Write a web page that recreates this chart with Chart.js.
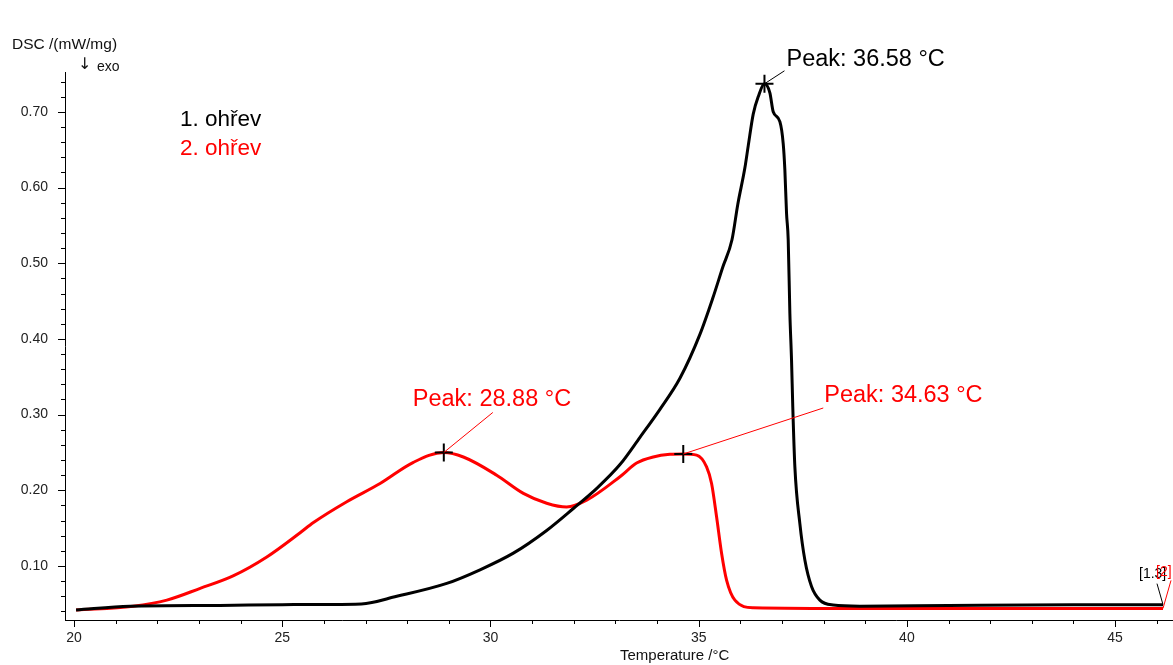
<!DOCTYPE html>
<html>
<head>
<meta charset="utf-8">
<script src="https://cdn.jsdelivr.net/npm/chart.js@4.4.1/dist/chart.umd.min.js"></script>
<style>
  html, body { margin: 0; padding: 0; background: #ffffff; }
  canvas { display: block; }
</style>
</head>
<body>
<canvas id="dsc" width="1173" height="665"></canvas>
<script>
const FONT = '"Liberation Sans", Arial, Helvetica, sans-serif';

// DSC heating runs: temperature (°C) and heat flow (mW/mg)
const run1Temp = [20.05, 21.34, 23.50, 25.00, 26.90, 27.75, 28.95, 29.75, 30.55, 31.35,
                  31.99, 32.56, 33.11, 33.59, 34.07, 34.55, 35.03, 35.34, 35.58, 35.80,
                  35.94, 36.11, 36.19, 36.31, 36.43, 36.58, 36.71, 36.79, 36.95, 37.03,
                  37.07, 37.11, 37.15, 37.19, 37.23, 37.26, 37.31, 37.43, 37.55, 37.71,
                  37.91, 38.23, 38.87, 41.00, 44.00, 46.15];
const run1Dsc  = [0.042, 0.047, 0.048, 0.049, 0.050, 0.060, 0.077, 0.095, 0.117, 0.147,
                  0.176, 0.203, 0.234, 0.270, 0.307, 0.348, 0.406, 0.454, 0.495, 0.531,
                  0.578, 0.626, 0.655, 0.697, 0.720, 0.737, 0.725, 0.700, 0.687, 0.658,
                  0.623, 0.566, 0.531, 0.434, 0.372, 0.310, 0.231, 0.156, 0.108, 0.073,
                  0.055, 0.0485, 0.047, 0.048, 0.049, 0.049];

const run2Temp = [20.05, 21.42, 22.23, 23.03, 23.82, 24.63, 25.43, 25.75, 26.55,
                  27.35, 28.15, 28.88, 29.35, 30.15, 30.79, 31.35, 31.83, 32.31, 33.11,
                  33.51, 33.91, 34.31, 34.63, 34.95, 35.19, 35.31, 35.43, 35.55, 35.67,
                  35.87, 36.31, 38.87, 46.15];
const run2Dsc  = [0.042, 0.047, 0.055, 0.0705, 0.087, 0.112, 0.144, 0.1575, 0.185,
                  0.209, 0.237, 0.250, 0.244, 0.220, 0.196, 0.183, 0.178, 0.187, 0.218,
                  0.236, 0.244, 0.2475, 0.248, 0.2465, 0.231, 0.209, 0.165, 0.117, 0.0815,
                  0.055, 0.045, 0.044, 0.044];

const seriesNames  = ['1. ohřev', '2. ohřev'];
const seriesColors = ['#000000', '#ff0000'];
const endTags      = ['[1.3]', '[2]'];

// evaluated peaks (temperature, heat flow, which run)
const peakTemp   = [36.58, 28.88, 34.63];
const peakDsc    = [0.737, 0.250, 0.248];
const peakSeries = [0, 1, 1];

// axis ticks
const xMajorTicks = [20, 25, 30, 35, 40, 45];
const xMinorTicks = [21, 22, 23, 24, 26, 27, 28, 29, 31, 32, 33, 34, 36, 37, 38, 39, 41, 42, 43, 44, 46];
const yMajorTicks = [0.10, 0.20, 0.30, 0.40, 0.50, 0.60, 0.70];
const yMinorTicks = [0.04, 0.06, 0.08, 0.12, 0.14, 0.16, 0.18, 0.22, 0.24, 0.26, 0.28,
                     0.32, 0.34, 0.36, 0.38, 0.42, 0.44, 0.46, 0.48, 0.52, 0.54, 0.56, 0.58,
                     0.62, 0.64, 0.66, 0.68, 0.72, 0.74];
const xRange = [19.784, 46.39];
const yRange = [0.0287, 0.7526];

const xTitle = 'Temperature /°C';
const yTitle = 'DSC /(mW/mg)';
const yHintArrow = '↓';
const yHintText  = 'exo';

const toPoints = (xs, ys) => xs.map((x, i) => ({ x: x, y: ys[i] }));

// label placement around each peak marker (pixel offsets)
const peakLabelOffsets = [
  { tx: 22,  ty: -18, lx: 20,  ly: -13 },
  { tx: -31, ty: -46, lx: 49,  ly: -40 },
  { tx: 141, ty: -52, lx: 140, ly: -46 }
];
const endTagOffsets = [
  { tx: -24, ty: -30, lx: -6, ly: -21 },
  { tx: -7,  ty: -36, lx: 8,  ly: -28 }
];

const decorations = {
  id: 'decorations',
  afterDatasetsDraw(chart) {
    const ctx = chart.ctx;
    const xs = chart.scales.x, ys = chart.scales.y;
    const axisX = ys.right, axisY = xs.top;
    ctx.save();

    // tick marks
    ctx.strokeStyle = '#000';
    ctx.lineWidth = 1;
    ctx.beginPath();
    const yTick = (v, len) => {
      const p = Math.round(ys.getPixelForValue(v)) + 0.5;
      ctx.moveTo(axisX - len, p); ctx.lineTo(axisX, p);
    };
    const xTick = (v, len) => {
      const p = Math.round(xs.getPixelForValue(v)) + 0.5;
      ctx.moveTo(p, axisY); ctx.lineTo(p, axisY + len);
    };
    yMajorTicks.forEach(v => yTick(v, 7));
    yMinorTicks.forEach(v => yTick(v, 4));
    xMajorTicks.forEach(v => xTick(v, 7));
    xMinorTicks.forEach(v => xTick(v, 4));
    ctx.stroke();

    // axis titles
    ctx.fillStyle = '#111';
    ctx.textBaseline = 'middle';
    ctx.textAlign = 'left';
    ctx.font = '15.5px ' + FONT;
    ctx.fillText(yTitle, 12, 45);
    ctx.font = '16px "DejaVu Sans", sans-serif';
    ctx.fillText(yHintArrow, 78, 65);
    ctx.font = '14px ' + FONT;
    ctx.fillText(yHintText, 97, 67);
    ctx.font = '15px ' + FONT;
    ctx.fillText(xTitle, 620, 656);

    // series names
    ctx.font = '22.5px ' + FONT;
    ctx.textBaseline = 'alphabetic';
    seriesNames.forEach((name, i) => {
      ctx.fillStyle = seriesColors[i];
      ctx.fillText(name, 180, 126 + i * 29);
    });

    // peak labels with leader lines
    ctx.font = '23.5px ' + FONT;
    peakTemp.forEach((t, i) => {
      const px = xs.getPixelForValue(t), py = ys.getPixelForValue(peakDsc[i]);
      const o = peakLabelOffsets[i];
      const col = seriesColors[peakSeries[i]];
      ctx.strokeStyle = col;
      ctx.lineWidth = 1;
      ctx.beginPath();
      ctx.moveTo(px, py);
      ctx.lineTo(px + o.lx, py + o.ly);
      ctx.stroke();
      ctx.fillStyle = col;
      ctx.fillText('Peak: ' + t.toFixed(2) + ' °C', px + o.tx, py + o.ty);
    });

    // run tags at the end of each curve
    ctx.font = '14px ' + FONT;
    ctx.textBaseline = 'middle';
    [[run1Temp, run1Dsc], [run2Temp, run2Dsc]].forEach((s, i) => {
      const n = s[0].length - 1;
      const px = xs.getPixelForValue(s[0][n]), py = ys.getPixelForValue(s[1][n]);
      const o = endTagOffsets[i];
      ctx.strokeStyle = seriesColors[i];
      ctx.beginPath();
      ctx.moveTo(px, py);
      ctx.lineTo(px + o.lx, py + o.ly);
      ctx.stroke();
      ctx.fillStyle = seriesColors[i];
      ctx.fillText(endTags[i], px + o.tx, py + o.ty);
    });

    ctx.restore();
  }
};

const noPadding = s => { s.paddingLeft = 0; s.paddingRight = 0; s.paddingTop = 0; s.paddingBottom = 0; };

new Chart(document.getElementById('dsc'), {
  type: 'scatter',
  data: {
    datasets: [
      {
        label: 'markers',
        data: toPoints(peakTemp, peakDsc),
        showLine: false,
        pointStyle: 'cross',
        pointRadius: 9,
        pointBorderWidth: 2,
        pointBorderColor: '#000',
        order: 0
      },
      {
        label: seriesNames[0],
        data: toPoints(run1Temp, run1Dsc),
        showLine: true,
        borderColor: seriesColors[0],
        borderWidth: 3,
        pointRadius: 0,
        cubicInterpolationMode: 'monotone',
        order: 1
      },
      {
        label: seriesNames[1],
        data: toPoints(run2Temp, run2Dsc),
        showLine: true,
        borderColor: seriesColors[1],
        borderWidth: 3,
        pointRadius: 0,
        cubicInterpolationMode: 'monotone',
        order: 2
      }
    ]
  },
  options: {
    responsive: false,
    devicePixelRatio: 1,
    animation: false,
    events: [],
    layout: { autoPadding: false, padding: { top: 72, left: 0, right: 0, bottom: 0 } },
    plugins: { legend: { display: false }, tooltip: { enabled: false } },
    scales: {
      x: {
        type: 'linear',
        min: xRange[0],
        max: xRange[1],
        afterFit: s => { s.height = 45; noPadding(s); },
        afterBuildTicks: s => { s.ticks = xMajorTicks.map(v => ({ value: v })); },
        grid: { display: false, drawTicks: false },
        border: { display: true, color: '#000', width: 1 },
        ticks: {
          autoSkip: false,
          maxRotation: 0,
          padding: 10,
          color: '#222',
          font: { family: FONT, size: 14 },
          callback: v => String(v)
        }
      },
      y: {
        type: 'linear',
        min: yRange[0],
        max: yRange[1],
        afterFit: s => { s.width = 65; noPadding(s); },
        afterBuildTicks: s => { s.ticks = yMajorTicks.map(v => ({ value: v })); },
        grid: { display: false, drawTicks: false },
        border: { display: true, color: '#000', width: 1 },
        ticks: {
          autoSkip: false,
          padding: 17,
          color: '#222',
          font: { family: FONT, size: 14 },
          callback: v => Number(v).toFixed(2)
        }
      }
    }
  },
  plugins: [decorations]
});
</script>
</body>
</html>
